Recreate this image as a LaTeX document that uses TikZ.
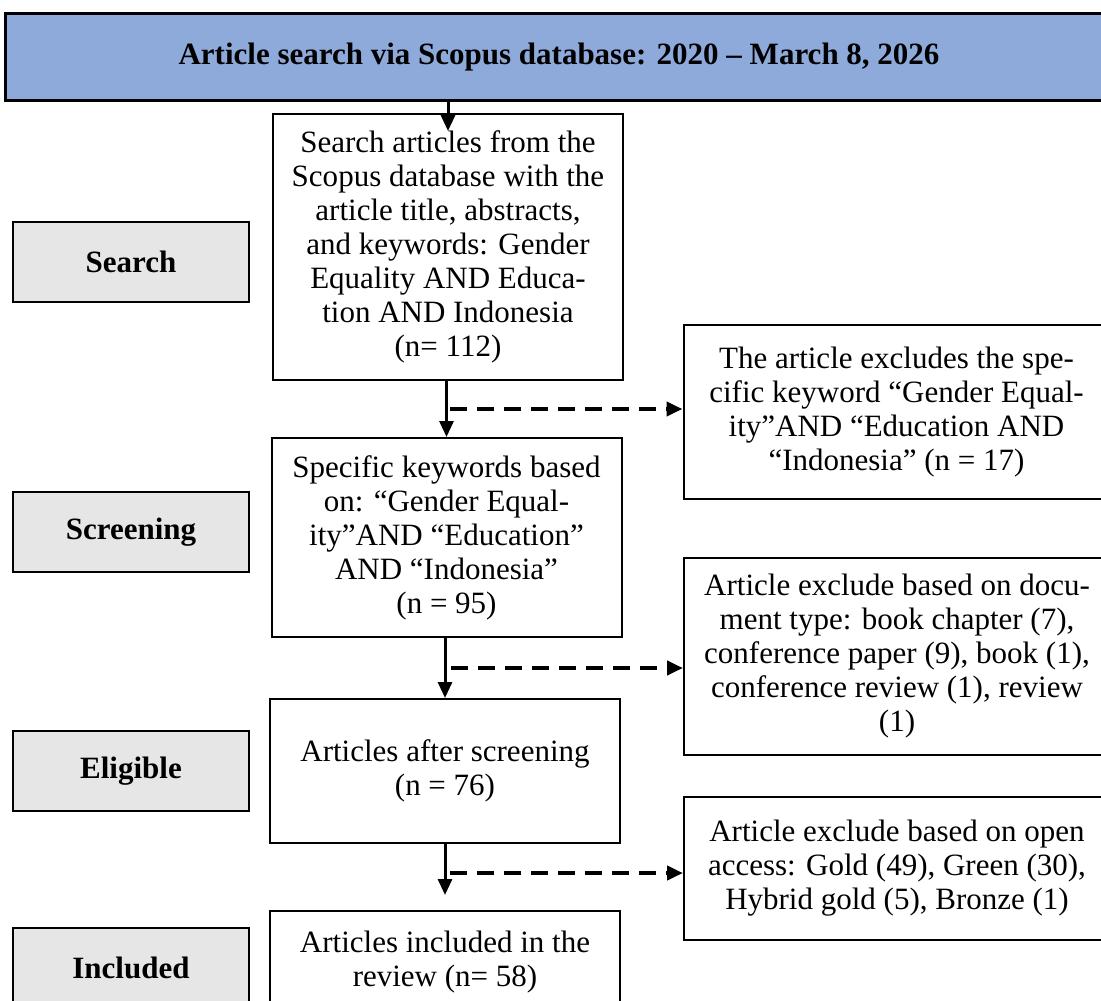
\documentclass[tikz,border=0pt]{standalone}
\usepackage{fontspec}
\setmainfont{Liberation Serif}
\usepackage{tikz}
\usepackage{xcolor}
\usetikzlibrary{
    arrows.meta,
    calc,
    positioning
}
\definecolor{titleblue}{HTML}{8EAADB}
\definecolor{stagegray}{HTML}{E6E6E6}

\begin{document}
\begin{tikzpicture}[x=0.5pt, y=-0.5pt,
        every node/.style={font=\fontsize{15.5}{17}\selectfont},
        titlebox/.style={draw, line width=1.5pt, fill=titleblue, minimum width=554pt, minimum height=43.5pt, font=\fontsize{15.5}{17}\selectfont\bfseries},
        stagebox/.style={draw, line width=1pt, fill=stagegray, minimum width=118pt, minimum height=40pt, font=\fontsize{15.5}{17}\selectfont\bfseries},
        mainbox/.style={draw, line width=1pt, align=center, inner sep=0pt, minimum width=175pt},
        exclbox/.style={draw, line width=1pt, align=center, inner sep=0pt, minimum width=213pt},
        flow/.style={line width=1.5pt, -{Triangle[length=8pt, width=7pt]}},
        skip/.style={line width=2pt, dash pattern=on 8.5pt off 5pt, -{Triangle[length=8pt, width=7pt]}}]
                        \useasboundingbox (0, 0) rectangle (1101, 1000);

                        \node[titlebox] (top) at (559, 57.5) {Article search via Scopus database: 2020 -- March 8, 2026};

                        \node[stagebox] (search) at (131, 261.5) {Search};
                        \node[stagebox] (screening) at (131, 532) {Screening};
                        \node[stagebox] (eligible) at (131, 771) {Eligible};
                        \node[stagebox] (included) at (131, 968) {Included};

                        \node[mainbox, minimum height=133pt] (searchtxt) at (448, 247) {Search articles from the\\ Scopus database with the\\ article title, abstracts,\\ and keywords: Gender\\ Equality AND Educa-\\ tion AND Indonesia\\ (n= 112)};
                        \node[mainbox, minimum height=99.5pt] (screentxt) at (446.5, 537.5) {Specific keywords based\\ on: “Gender Equal-\\ ity”AND “Education”\\ AND “Indonesia”\\ (n = 95)};
                        \node[mainbox, minimum height=72pt] (eligtxt) at (445, 771) {Articles after screening\\ (n = 76)};
                        \node[mainbox, minimum height=51pt] (incltxt) at (445, 962) {Articles included in the\\ review (n= 58)};

                        \node[exclbox, minimum height=87pt] (excl1) at (896.5, 412) {The article excludes the spe-\\ cific keyword “Gender Equal-\\ ity”AND “Education AND\\ “Indonesia” (n = 17)};
                        \node[exclbox, minimum height=98.5pt] (excl2) at (897, 656.5) {Article exclude based on docu-\\ ment type: book chapter (7),\\ conference paper (9), book (1),\\ conference review (1), review\\ (1)};
                        \node[exclbox, minimum height=71.5pt] (excl3) at (897, 868.5) {Article exclude based on open\\ access: Gold (49), Green (30),\\ Hybrid gold (5), Bronze (1)};

                        \coordinate (b1) at ($(searchtxt.south)!0.5!(screentxt.north) + (3, 0)$);
                        \coordinate (b2) at ($(screentxt.south)!0.5!(eligtxt.north) + (5, 0)$);
                        \coordinate (b3) at ($(eligtxt.south)!0.5!(incltxt.north) + (5, -4)$);

                        \draw
                        (top.south -| searchtxt.north) edge[flow] ([yshift=-9pt]searchtxt.north)
                        (searchtxt.south -| screentxt.north) edge[flow] (screentxt.north)
                        (screentxt.south -| eligtxt.north) edge[flow] (eligtxt.north)
                        (eligtxt.south) edge[flow, shorten >=7.5pt] (incltxt.north);

                        \draw
                        (b1) edge[skip] (b1 -| excl1.west)
                        (b2) edge[skip] (b2 -| excl2.west)
                        (b3) edge[skip] (b3 -| excl3.west);
                    \end{tikzpicture}
\end{document}
